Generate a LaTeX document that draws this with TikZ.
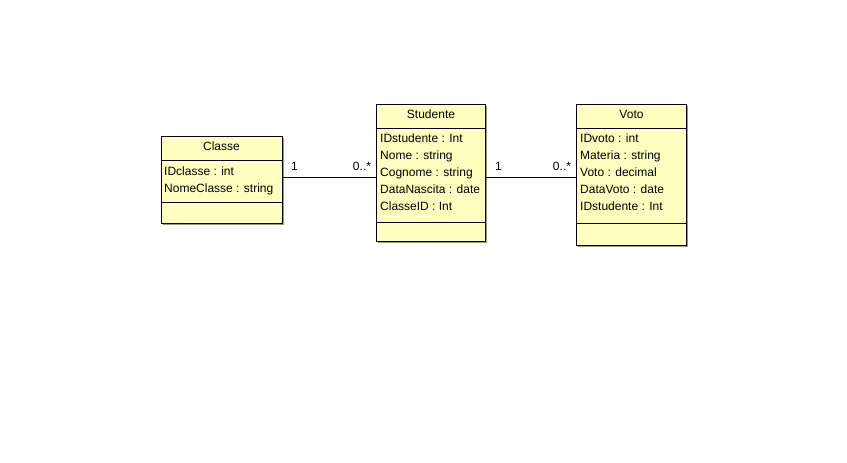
\documentclass[tikz,border=0pt]{standalone}
\usepackage{fontspec}
\setmainfont{Liberation Sans}
\usetikzlibrary{shadows}
\definecolor{umlfill}{RGB}{255,255,192}
\definecolor{shadowgray}{RGB}{150,150,150}
\tikzset{
  classbox/.style={draw=black, fill=umlfill, line width=0.9pt, inner sep=0pt,
    drop shadow={shadow xshift=1.6pt, shadow yshift=-1.6pt, fill=shadowgray, opacity=1}},
  sep/.style={line width=0.9pt},
  title/.style={font=\fontsize{12pt}{14pt}\selectfont, anchor=base, inner sep=0pt},
  attr/.style={font=\fontsize{12pt}{14pt}\selectfont, anchor=base west, inner sep=0pt},
  mult/.style={font=\fontsize{12pt}{14pt}\selectfont, anchor=base, inner sep=0pt},
  assoc/.style={line width=0.9pt}
}
\begin{document}
\begin{tikzpicture}[x=1pt,y=-1pt]
\useasboundingbox[fill=white] (0,0) rectangle (847,463);
% Classe
\node[classbox, minimum width=121pt, minimum height=87pt] (classe) at (221.5,179.5) {};
\draw[sep] (161,160.5) -- (282,160.5);
\draw[sep] (161,202.5) -- (282,202.5);
\node[title] (classeT) at (221.5,150) {Classe};
\node[attr] (c1) at (164,175.5) {IDclasse : int};
\node[attr] (c2) at (164,192.5) {NomeClasse : string};
% Studente
\node[classbox, minimum width=109pt, minimum height=137pt] (stud) at (431,172.5) {};
\draw[sep] (376.5,128.5) -- (485.5,128.5);
\draw[sep] (376.5,222.5) -- (485.5,222.5);
\node[title] (studT) at (431,118.5) {Studente};
\node[attr] (s1) at (380,142.5) {IDstudente : Int};
\node[attr] (s2) at (380,159.5) {Nome : string};
\node[attr] (s3) at (380,176.5) {Cognome : string};
\node[attr] (s4) at (380,193.5) {DataNascita : date};
\node[attr] (s5) at (380,210.5) {ClasseID : Int};
% Voto
\node[classbox, minimum width=110pt, minimum height=141pt] (voto) at (631.5,174.5) {};
\draw[sep] (576.5,128.5) -- (686.5,128.5);
\draw[sep] (576.5,223.5) -- (686.5,223.5);
\node[title] (votoT) at (631.5,118.5) {Voto};
\node[attr] (v1) at (580,142.5) {IDvoto : int};
\node[attr] (v2) at (580,159.5) {Materia : string};
\node[attr] (v3) at (580,176.5) {Voto : decimal};
\node[attr] (v4) at (580,193.5) {DataVoto : date};
\node[attr] (v5) at (580,210.5) {IDstudente : Int};
% associations
\coordinate (ya) at (0,177);
\draw[assoc] (classe.east |- ya) -- (stud.west |- ya);
\draw[assoc] (stud.east |- ya) -- (voto.west |- ya);
\node[mult] (m1) at (294.5,170.5) {1};
\node[mult] (m2) at (362,170.5) {0..*};
\node[mult] (m3) at (498.5,170.5) {1};
\node[mult] (m4) at (562,170.5) {0..*};
\end{tikzpicture}
\end{document}
